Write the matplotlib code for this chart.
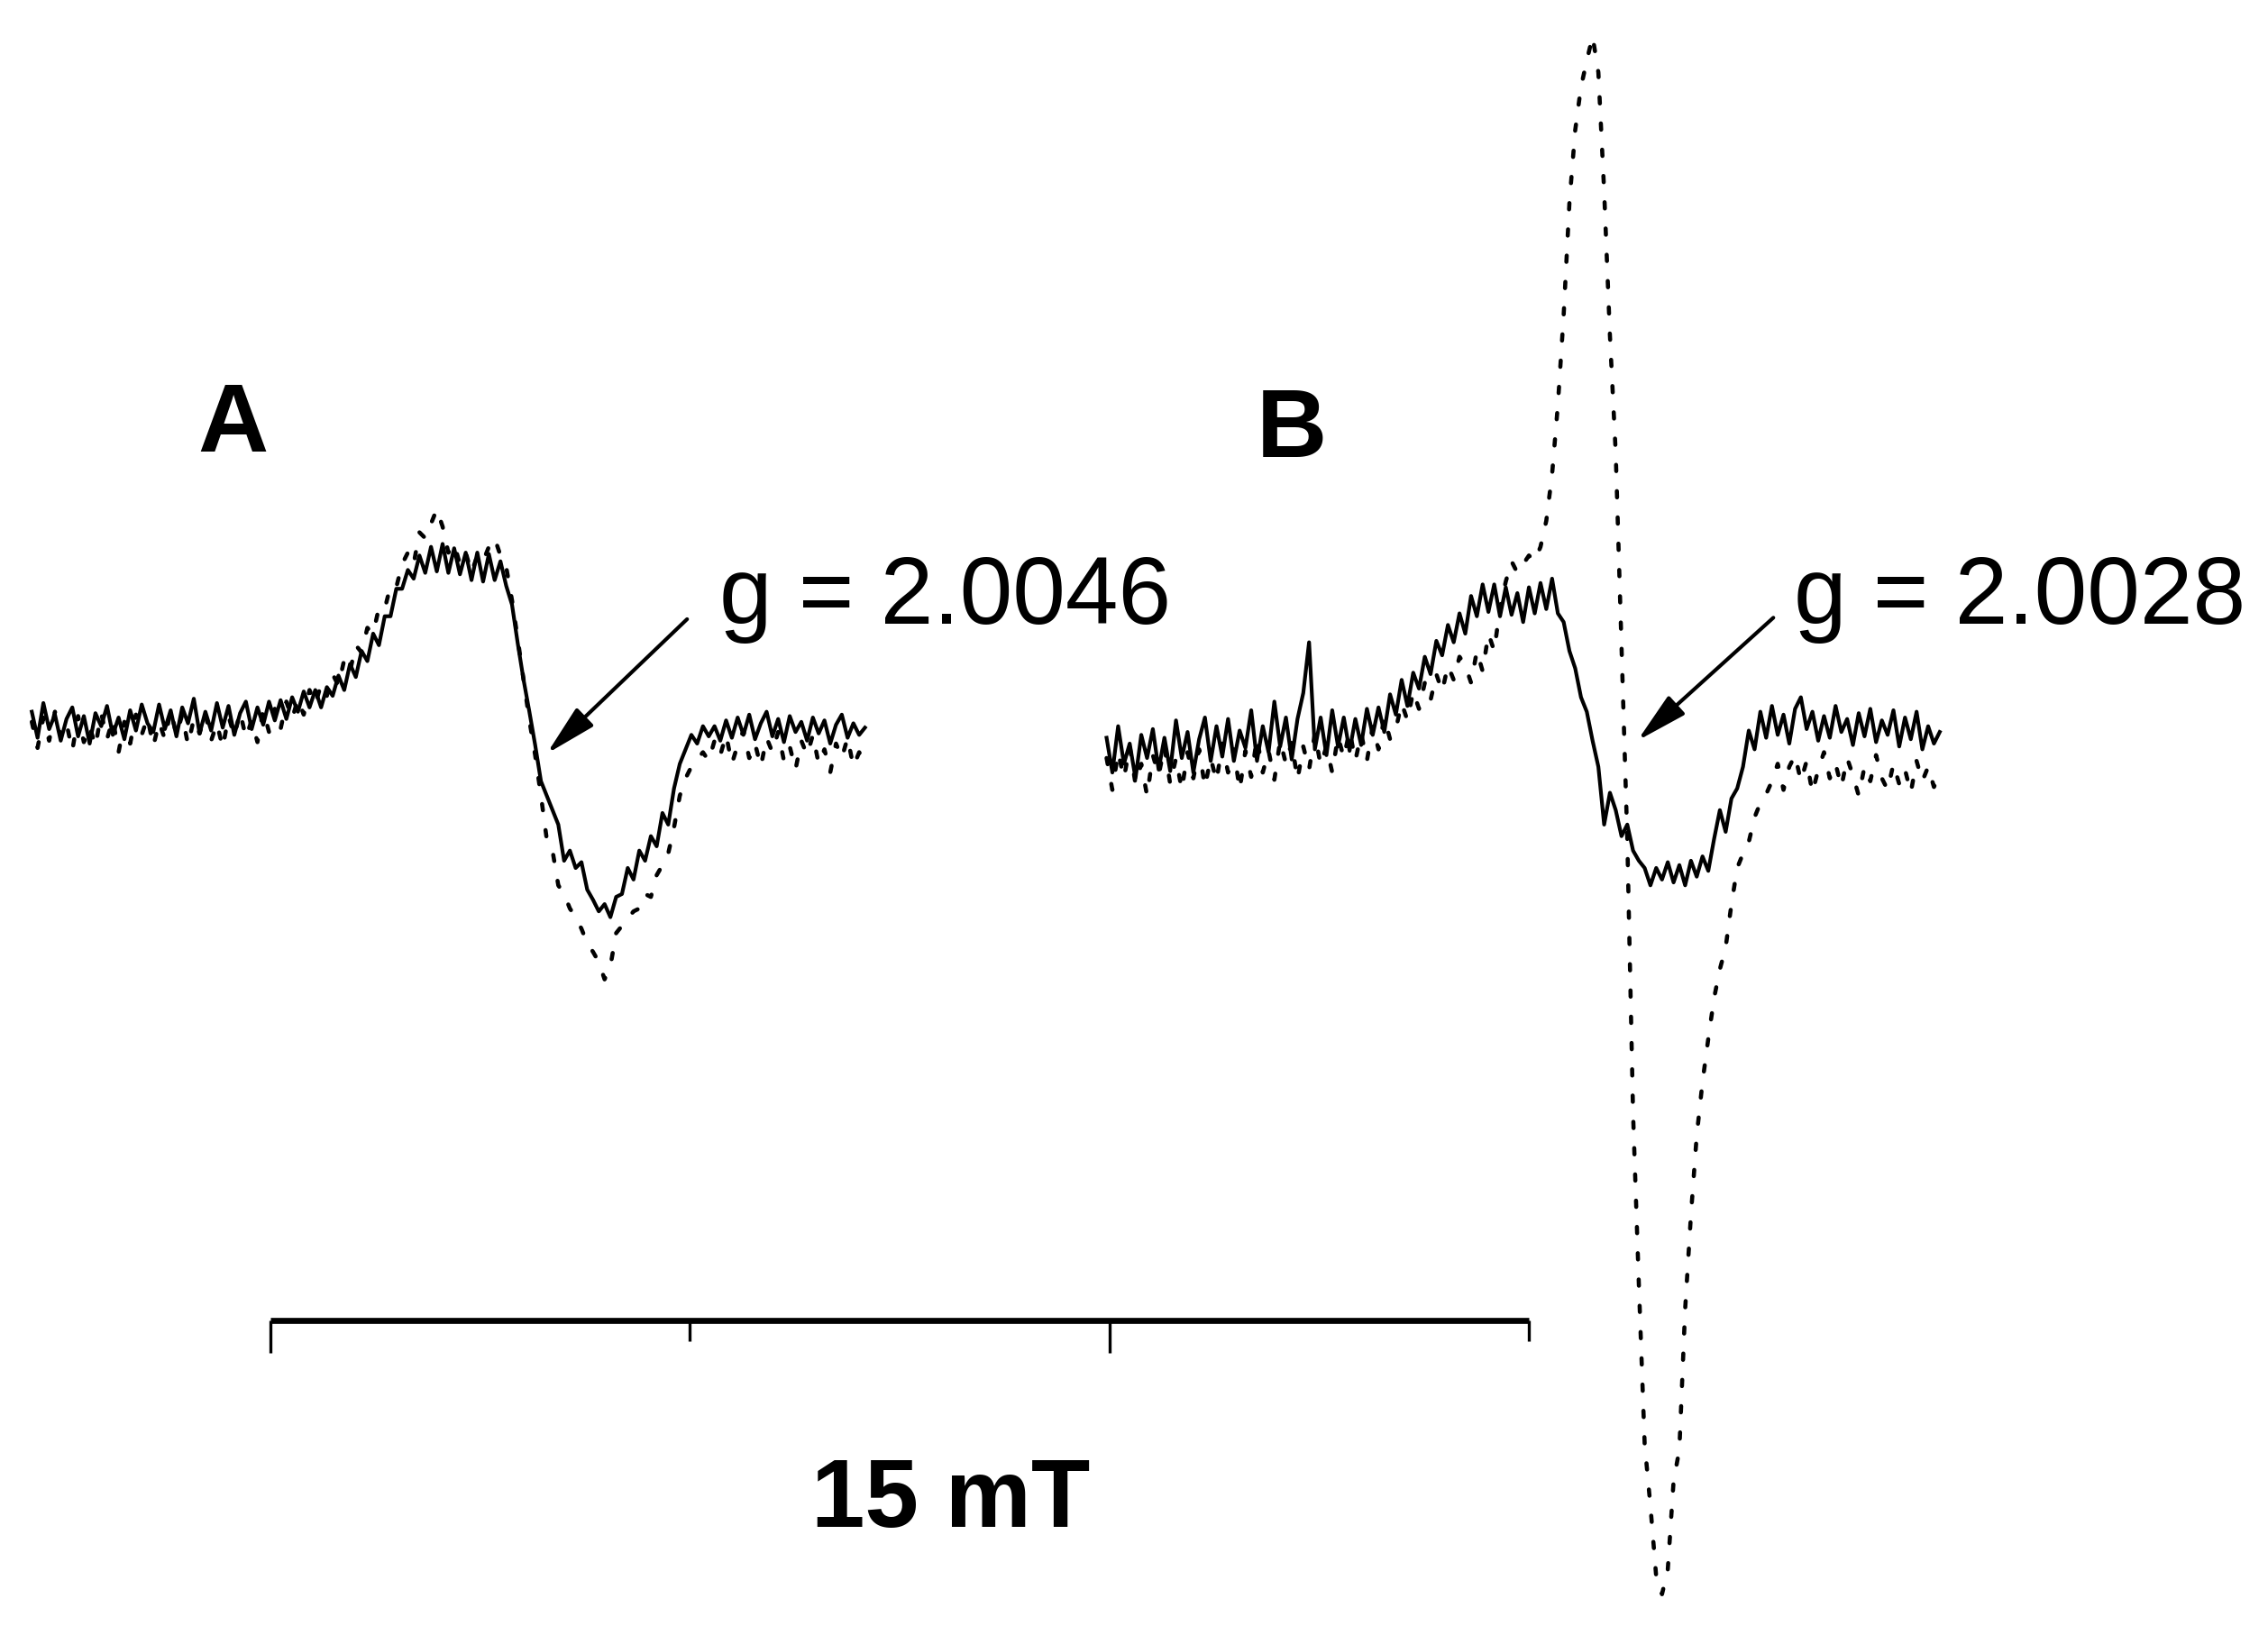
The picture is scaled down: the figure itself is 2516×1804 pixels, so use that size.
import numpy as np
import matplotlib
matplotlib.use("Agg")
import matplotlib.pyplot as plt

plt.rcParams['font.family'] = ['Liberation Sans', 'DejaVu Sans']
plt.rcParams['lines.scale_dashes'] = False

# ---------------- data (field in mT, signal in arbitrary units) ----------------
FIELD_A_START, FIELD_A_END = -2.845, 7.086
FIELD_B_START, FIELD_B_END = 9.966, 19.897

sig_A_solid = [
    8, -10, 14, -4, 6, -12, 3, 11, -9, 5,
    -14, 7, -2, 12, -8, 4, -11, 9, -5, 13,
    0, -6, 13, -4, 9, -9, 11, 0, 17, -7,
    8, -5, 14, -3, 12, -8, 7, 15, -4, 11,
    -1, 15, 2, 16, 3, 18, 8, 22, 11, 23,
    11, 25, 19, 33, 23, 41, 32, 50, 43, 62,
    54, 74, 74, 93, 93, 106, 100, 116, 104, 122,
    105, 124, 104, 121, 103, 118, 99, 118, 98, 117,
    99, 112, 95, 82, 55, 30, 8, -15, -40, -50,
    -60, -70, -95, -88, -100, -96, -115, -122, -130, -125,
    -134, -120, -118, -100, -108, -88, -95, -78, -85, -62,
    -70, -45, -28, -18, -8, -14, -2, -9, -2, -12,
    2, -10, 4, -8, 6, -11, 0, 8, -9, 3,
    -13, 5, -6, 1, -12, 4, -7, 2, -14, -1,
    6, -10, 0, -8, -3]

sig_A_dotted = [
    1, -17, 4, -12, 8, -9, 0, -19, 5, -13,
    -2, -16, 7, -11, 3, -20, 1, -14, 6, -8,
    4, -16, 1, -11, 9, -8, 6, -15, 3, -7,
    7, -12, 0, -17, 5, -9, 8, -10, 2, -13,
    9, -6, 10, -4, 15, 3, 17, 6, 23, 13,
    27, 19, 34, 26, 44, 36, 54, 49, 66, 62,
    80, 79, 95, 94, 110, 118, 110, 132, 128, 138,
    148, 136, 118, 124, 110, 118, 104, 116, 112, 122,
    128, 116, 108, 85, 58, 30, 2, -22, -50, -80,
    -88, -112, -118, -128, -134, -142, -152, -158, -165, -177,
    -168, -145, -140, -135, -130, -128, -118, -120, -105, -98,
    -90, -72, -50, -38, -30, -25, -20, -26, -12, -22,
    -8, -28, -15, -5, -24, -14, -30, -10, -20, -6,
    -26, -16, -32, -12, -22, -8, -28, -18, -34, -14,
    -24, -10, -30, -20, -26]

sig_B_solid = [
    -10, -34, -2, -28, -14, -38, -8, -24, -4, -32,
    -10, -33, 2, -24, -6, -34, -11, 4, -26, -2,
    -23, 3, -26, -5, -17, 9, -26, -2, -20, 15,
    -16, 4, -25, 3, 21, 56, -18, 4, -22, 9,
    -16, 4, -19, 3, -15, 10, -8, 11, -6, 20,
    6, 30, 12, 35, 24, 46, 34, 57, 47, 68,
    56, 76, 62, 88, 74, 96, 77, 96, 74, 94,
    75, 90, 70, 94, 76, 97, 79, 100, 76, 70,
    50, 38, 18, 8, -12, -30, -70, -48, -60, -78,
    -70, -88, -95, -100, -112, -100, -108, -96, -110, -98,
    -112, -95, -106, -92, -102, -80, -60, -75, -52, -45,
    -30, -5, -18, 8, -10, 12, -8, 6, -14, 10,
    18, -4, 8, -12, 5, -10, 12, -6, 3, -15,
    7, -9, 10, -13, 2, -8, 9, -16, 4, -11,
    8, -18, -2, -14, -6]

sig_B_dotted = [
    -24, -46, -20, -38, -16, -42, -28, -50, -22, -36,
    -16, -42, -24, -46, -20, -38, -18, -44, -24, -40,
    -14, -34, -18, -46, -19, -37, -10, -34, -19, -39,
    -12, -28, -13, -39, -16, -32, -7, -29, -16, -34,
    -9, -24, -5, -26, -7, -26, -2, -18, 4, -11,
    -4, 14, 2, 22, 10, 28, 16, 34, 22, 40,
    30, 46, 40, 28, 50, 36, 62, 50, 80, 98,
    112, 104, 110, 116, 112, 122, 140, 172, 220, 282,
    360, 410, 440, 458, 475, 450, 368, 268, 187, 54,
    -80, -270, -388, -498, -541, -590, -602, -585, -524, -502,
    -405, -340, -285, -248, -218, -190, -170, -155, -125, -100,
    -90, -82, -65, -55, -49, -40, -28, -46, -30, -22,
    -40, -26, -48, -32, -20, -38, -28, -44, -24, -36,
    -50, -30, -40, -22, -38, -46, -28, -42, -32, -48,
    -26, -40, -30, -44, -36]

panel_labels = ["A", "B"]
g_labels = ["g = 2.0046", "g = 2.0028"]
scale_ticks_mT = [0, 5, 10, 15]
scale_label = "15 mT"

field_A = np.linspace(FIELD_A_START, FIELD_A_END, len(sig_A_solid))
field_B = np.linspace(FIELD_B_START, FIELD_B_END, len(sig_B_solid))

# ---------------- layout ----------------
fig = plt.figure(figsize=(25.16, 18.04), dpi=100)
ax = fig.add_axes([0, 0, 1, 1])
ax.set_xlim(-3.224, 23.81)
ax.set_ylim(-624, 500)
ax.axis('off')

solid_kw = dict(color='black', lw=3.0, solid_joinstyle='round')
dot_kw = dict(color='black', lw=3.3, linestyle=(0, (5.0, 16.0)),
              dash_capstyle='round')

ax.plot(field_A, sig_A_dotted, **dot_kw)
ax.plot(field_A, sig_A_solid, **solid_kw)
ax.plot(field_B, sig_B_dotted, **dot_kw)
ax.plot(field_B, sig_B_solid, **solid_kw)

# scale bar
bar_y = -413
ax.plot([scale_ticks_mT[0], scale_ticks_mT[-1]], [bar_y, bar_y],
        color='black', lw=4.8, solid_capstyle='butt')
for k, t in enumerate(scale_ticks_mT):
    depth = 22 if k % 2 == 0 else 14
    ax.plot([t, t], [bar_y, bar_y - depth], color='black', lw=2.4,
            solid_capstyle='butt')

# panel labels
fig.text(0.1027, 0.7224, panel_labels[0], ha='center', va='baseline',
         fontsize=78, fontweight='bold')
fig.text(0.5695, 0.7189, panel_labels[1], ha='center', va='baseline',
         fontsize=78, fontweight='bold')

# g-value labels
fig.text(0.3170, 0.6165, g_labels[0], ha='left', va='baseline', fontsize=76)
fig.text(0.7908, 0.6165, g_labels[1], ha='left', va='baseline', fontsize=76)

# arrows
arrow_kw = dict(arrowstyle='-|>,head_length=1.75,head_width=0.42',
                color='black', lw=3.0, shrinkA=0, shrinkB=0,
                mutation_scale=20)
ax.annotate('', xy=(3.293, -21), xytext=(4.966, 72), arrowprops=arrow_kw)
ax.annotate('', xy=(16.293, -12), xytext=(17.914, 73), arrowprops=arrow_kw)

# scale label
fig.text(0.4190, 0.0610, scale_label, ha='center', va='baseline',
         fontsize=77, fontweight='bold')

fig.savefig('out.png', dpi=100)
